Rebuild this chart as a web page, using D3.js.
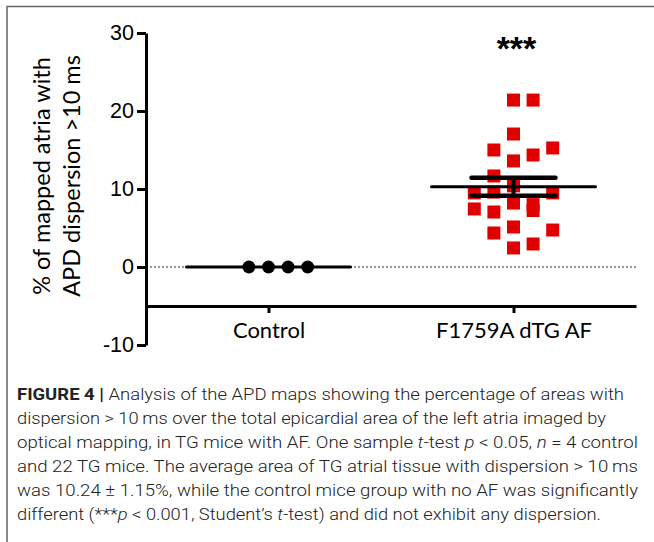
<!DOCTYPE html>
<html>
<head>
<meta charset="utf-8">
<script src="https://cdn.jsdelivr.net/npm/d3@7"></script>
<style>
  body { margin: 0; background: #fff; }
  svg { display: block; }
</style>
</head>
<body>
<svg id="fig" width="654" height="542"></svg>
<script>
// groups and values
var groups = ['Control', 'F1759A dTG AF'];
var controlValues = [0, 0, 0, 0];
var controlColumn = [-1, 0, 1, 2];
var tgValues = [21.4, 21.4, 17.05, 15.0, 14.36, 15.26, 13.6, 11.67, 9.5, 9.6, 10.4,
                9.5, 7.44, 7.05, 8.2, 8.0, 7.24, 5.13, 4.36, 4.74, 2.44, 2.95];
var tgColumn = [0, 1, 0, -1, 1, 2, 0, -1, -2, -1, 0,
                2, -2, -1, 0, 1, 1, 0, -1, 2, 0, 1];
var yTicks = [-10, 0, 10, 20, 30];
var yTitle = ['% of mapped atria with', 'APD dispersion >10 ms'];
var signif = '***';

var caption = [
  [['b', 'FIGURE 4 | '], ['', 'Analysis of the APD maps showing the percentage of areas with']],
  [['', 'dispersion > 10\u2009ms over the total epicardial area of the left atria imaged by']],
  [['', 'optical mapping, in TG mice with AF. One sample '], ['i', 't'], ['', '-test '], ['i', 'p'], ['', ' < 0.05, '], ['i', 'n'], ['', ' = 4 control']],
  [['', 'and 22 TG mice. The average area of TG atrial tissue with dispersion > 10\u2009ms']],
  [['', 'was 10.24 \u00b1 1.15%, while the control mice group with no AF was significantly']],
  [['', 'different (***'], ['i', 'p'], ['', ' < 0.001, Student\u2019s '], ['i', 't'], ['', '-test) and did not exhibit any dispersion.']]
];
var captionWidths = [607, 589, 621, 621, 621, 584];

var svg = d3.select('#fig');

// frame
svg.append('path')
  .attr('d', 'M7,542V6.5H654')
  .attr('fill', 'none')
  .attr('stroke', '#666')
  .attr('stroke-width', 1.5);

var y = d3.scaleLinear().domain([-10, 30]).range([345, 33]);
var x = d3.scalePoint().domain(groups).range([146, 636]).padding(0.5);
var slot = d3.scaleLinear().domain([0, 1]).range([0, 19.6]);

// dotted zero line
svg.append('line')
  .attr('x1', 146).attr('x2', 636)
  .attr('y1', y(0)).attr('y2', y(0))
  .attr('stroke', '#333')
  .attr('stroke-width', 1.2)
  .attr('stroke-dasharray', '2,2');

// axes
var yAxis = svg.append('g')
  .attr('transform', 'translate(146,0)')
  .call(d3.axisLeft(y).tickValues(yTicks).tickSize(9).tickSizeOuter(0).tickPadding(3)
    .tickFormat(function(d) { return String(d); }));
yAxis.selectAll('text')
  .attr('font-family', '"Liberation Sans", Arial, sans-serif')
  .attr('font-size', 21.5)
  .attr('fill', '#000');

var xAxis = svg.append('g')
  .attr('transform', 'translate(0,' + y(-5) + ')')
  .call(d3.axisBottom(x).tickSize(7).tickSizeOuter(0).tickPadding(9));
xAxis.selectAll('text')
  .attr('font-family', 'Lato, "Open Sans", sans-serif')
  .attr('font-size', 22)
  .attr('fill', '#000');

svg.selectAll('.domain, .tick line')
  .attr('stroke', '#000')
  .attr('stroke-width', 3);

// y title
var title = svg.append('text')
  .attr('transform', 'translate(0,176) rotate(-90)')
  .attr('text-anchor', 'middle')
  .attr('font-family', 'Lato, "Open Sans", sans-serif')
  .attr('font-size', 23.5)
  .attr('fill', '#000');
title.selectAll('tspan')
  .data(yTitle)
  .enter().append('tspan')
  .attr('x', 0)
  .attr('y', function(d, i) { return 50 + i * 30; })
  .text(function(d) { return d; });

// squares for TG group
var sq = 13;
svg.selectAll('rect.pt')
  .data(tgValues)
  .enter().append('rect')
  .attr('class', 'pt')
  .attr('x', function(d, i) { return x(groups[1]) + slot(tgColumn[i]) - sq / 2; })
  .attr('y', function(d) { return y(d) - sq / 2; })
  .attr('width', sq)
  .attr('height', sq)
  .attr('fill', '#e00000');

// mean and SEM bars
function summary(vals) {
  var m = d3.mean(vals);
  var sd = d3.deviation(vals) || 0;
  return { mean: m, sem: sd / Math.sqrt(vals.length) };
}
function drawSummary(name, vals) {
  var s = summary(vals), cx = x(name);
  var g = svg.append('g').attr('stroke', '#000').attr('stroke-linecap', 'round');
  g.append('line')
    .attr('x1', cx - 82).attr('x2', cx + 82)
    .attr('y1', y(s.mean)).attr('y2', y(s.mean))
    .attr('stroke-width', 3);
  if (s.sem > 0) {
    [s.mean + s.sem, s.mean - s.sem].forEach(function(v) {
      g.append('line')
        .attr('x1', cx - 42).attr('x2', cx + 42)
        .attr('y1', y(v)).attr('y2', y(v))
        .attr('stroke-width', 4.5);
    });
    g.append('line')
      .attr('x1', cx).attr('x2', cx)
      .attr('y1', y(s.mean + s.sem)).attr('y2', y(s.mean - s.sem))
      .attr('stroke-width', 4)
      .attr('stroke-linecap', 'butt');
  }
}
drawSummary(groups[0], controlValues);
drawSummary(groups[1], tgValues);

// control circles
svg.selectAll('circle.pt')
  .data(controlValues)
  .enter().append('circle')
  .attr('class', 'pt')
  .attr('cx', function(d, i) { return x(groups[0]) + slot(controlColumn[i]); })
  .attr('cy', function(d) { return y(d); })
  .attr('r', 6.5)
  .attr('fill', '#000');

// significance stars
svg.append('text')
  .attr('x', x(groups[1]) + 3)
  .attr('y', 60)
  .attr('text-anchor', 'middle')
  .attr('font-family', '"Liberation Sans", Arial, sans-serif')
  .attr('font-size', 34)
  .attr('font-weight', 700)
  .attr('fill', '#000')
  .text(signif);

// caption
var cap = svg.append('g')
  .attr('font-family', 'Roboto, "Liberation Sans", sans-serif')
  .attr('font-size', 17)
  .attr('fill', '#222');
caption.forEach(function(line, li) {
  var t = cap.append('text')
    .attr('x', 17)
    .attr('y', 400 + li * 24)
    .attr('textLength', captionWidths[li])
    .attr('lengthAdjust', 'spacingAndGlyphs');
  line.forEach(function(seg) {
    t.append('tspan')
      .attr('font-weight', seg[0] === 'b' ? 700 : 300)
      .attr('font-style', seg[0] === 'i' ? 'italic' : 'normal')
      .text(seg[1]);
  });
});
</script>
</body>
</html>
